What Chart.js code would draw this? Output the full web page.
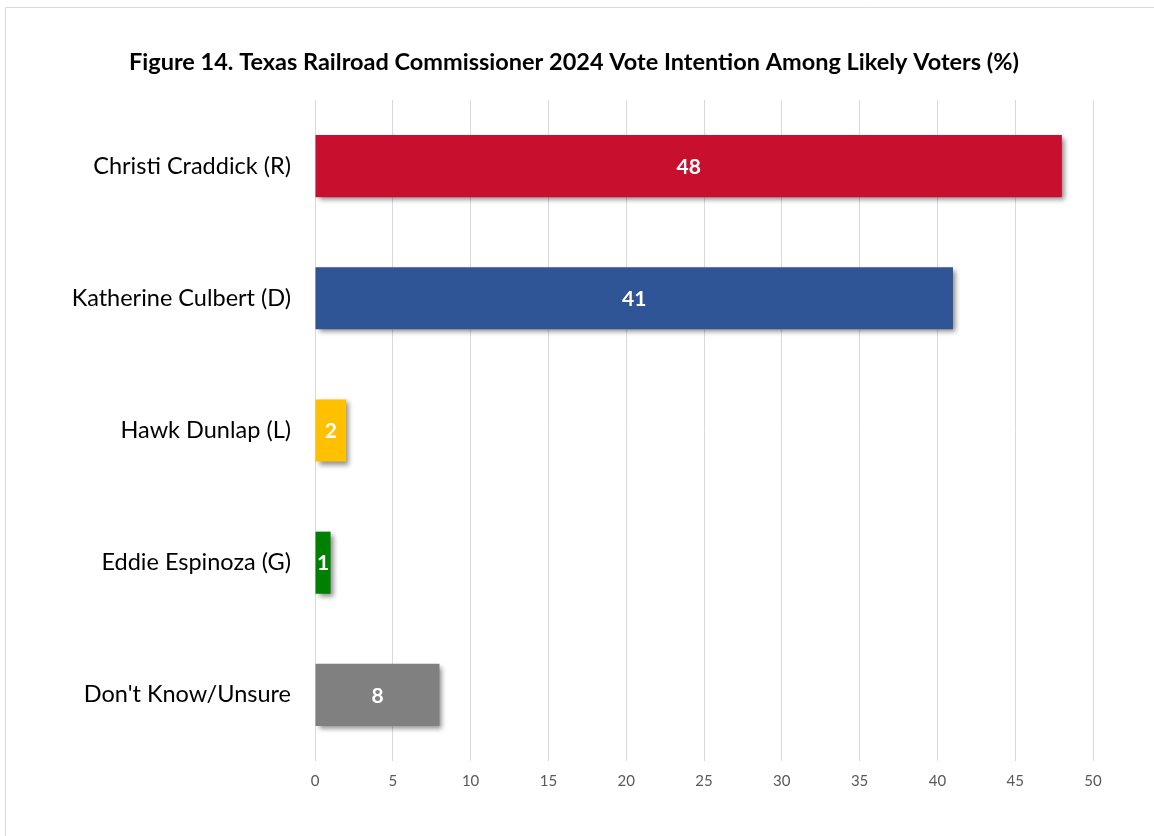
<!DOCTYPE html>
<html>
<head>
<meta charset="utf-8">
<script src="https://cdn.jsdelivr.net/npm/chart.js@4"></script>
<style>
  html, body { margin: 0; padding: 0; background: #fff; }
  #wrap { position: relative; width: 1154px; height: 836px; }
</style>
</head>
<body>
<div id="wrap"><canvas id="chart"></canvas></div>
<script>
const candidates = [
    "Christi Craddick (R)",
    "Katherine Culbert (D)",
    "Hawk Dunlap (L)",
    "Eddie Espinoza (G)",
    "Don't Know/Unsure"
];
const voteShares = [48, 41, 2, 1, 8];
const barColors = ["#C8102E", "#2F5597", "#FFC000", "#008000", "#808080"];
const axisTicks = [0, 5, 10, 15, 20, 25, 30, 35, 40, 45, 50];
const chartTitle = 'Figure 14. Texas Railroad Commissioner 2024 Vote Intention Among Likely Voters (%)';

const FONT = "Lato, 'Open Sans', sans-serif";

// thin gray frame round the whole figure, plus the heading
const framePlugin = {
    id: 'frame',
    beforeDraw(chart) {
        const ctx = chart.ctx;
        ctx.save();
        ctx.strokeStyle = '#d9d9d9';
        ctx.lineWidth = 1;
        ctx.beginPath();
        ctx.moveTo(5.5, chart.height + 5);
        ctx.lineTo(5.5, 7.5);
        ctx.lineTo(chart.width + 5, 7.5);
        ctx.stroke();

        ctx.fillStyle = '#000000';
        ctx.font = 'bold 23.5px ' + FONT;
        ctx.textAlign = 'center';
        ctx.textBaseline = 'middle';
        ctx.fillText(chartTitle, 574, 62);
        ctx.restore();
    }
};

// soft drop shadow under the bars
const shadowPlugin = {
    id: 'barShadow',
    beforeDatasetsDraw(chart) {
        const ctx = chart.ctx;
        ctx.save();
        ctx.shadowColor = 'rgba(0,0,0,0.45)';
        ctx.shadowBlur = 5;
        ctx.shadowOffsetX = 3;
        ctx.shadowOffsetY = 3;
    },
    afterDatasetsDraw(chart) {
        chart.ctx.restore();
    }
};

// white value labels centred in each bar
const valueLabels = {
    id: 'valueLabels',
    afterDatasetsDraw(chart) {
        const ctx = chart.ctx;
        const meta = chart.getDatasetMeta(0);
        ctx.save();
        ctx.fillStyle = '#ffffff';
        ctx.font = 'bold 21px ' + FONT;
        ctx.textAlign = 'center';
        ctx.textBaseline = 'middle';
        meta.data.forEach((bar, i) => {
            const cx = (bar.x + bar.base) / 2;
            ctx.fillText(String(voteShares[i]), cx, bar.y + 1);
        });
        ctx.restore();
    }
};

new Chart(document.getElementById('chart'), {
    type: 'bar',
    data: {
        labels: candidates,
        datasets: [{
            data: voteShares,
            backgroundColor: barColors,
            borderWidth: 0,
            barPercentage: 0.47,
            categoryPercentage: 1
        }]
    },
    options: {
        indexAxis: 'y',
        responsive: true,
        maintainAspectRatio: false,
        animation: false,
        layout: { padding: { left: 0, right: 61, bottom: 45, top: 100 } },
        plugins: {
            legend: { display: false },
            tooltip: { enabled: false },
            title: { display: false }
        },
        scales: {
            x: {
                min: 0,
                max: 50,
                afterBuildTicks(scale) {
                    scale.ticks = axisTicks.map(v => ({ value: v }));
                },
                afterFit(scale) { scale.height = 30; },
                grid: { color: '#d9d9d9', drawTicks: false },
                border: { display: false },
                ticks: {
                    color: '#595959',
                    padding: 11,
                    font: { family: FONT, size: 15 }
                }
            },
            y: {
                afterFit(scale) { scale.width = 315; },
                grid: { display: false, drawTicks: false },
                border: { display: false },
                ticks: {
                    color: '#000000',
                    padding: 24,
                    font: { family: FONT, size: 23.5 }
                }
            }
        }
    },
    plugins: [framePlugin, shadowPlugin, valueLabels]
});
</script>
</body>
</html>
